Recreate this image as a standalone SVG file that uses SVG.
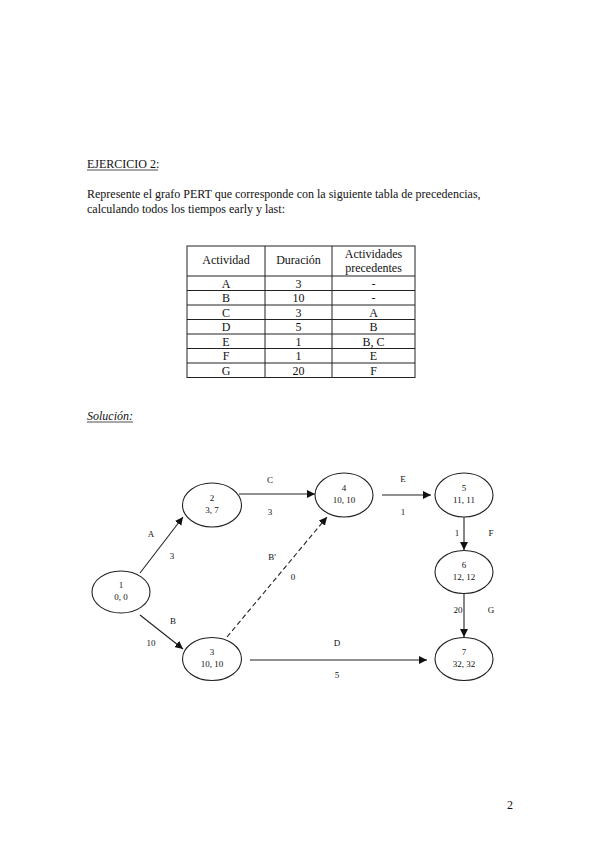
<svg xmlns="http://www.w3.org/2000/svg" width="599" height="848" viewBox="0 0 599 848">
<defs>
<style>
text{font-family:"Liberation Serif","Times New Roman",serif;fill:#111}
.p{font-size:12px}
.t{font-size:12px;text-anchor:middle}
.g{font-size:9px;text-anchor:middle}
.n ellipse{fill:none;stroke:#222;stroke-width:1.1}
.c line{stroke:#222;stroke-width:1.1}
.tab line{stroke:#222;stroke-width:1}
</style>
<marker id="ah" viewBox="0 0 10 10" refX="10" refY="5" markerWidth="8" markerHeight="8" markerUnits="userSpaceOnUse" orient="auto">
<path d="M0,0 L10,5 L0,10 z" fill="#111"/>
</marker>
</defs>
<rect width="599" height="848" fill="#fff"/>

<text class="p" x="87" y="168">EJERCICIO 2:</text>
<line x1="87" y1="170" x2="158" y2="170" stroke="#222" stroke-width="0.8"/>
<text class="p" x="87" y="198">Represente el grafo PERT que corresponde con la siguiente tabla de precedencias,</text>
<text class="p" x="87" y="213">calculando todos los tiempos early y last:</text>

<g id="tabla" class="tab">
<rect x="187" y="246" width="228" height="131.5" fill="none" stroke="#222" stroke-width="1"/>
<line x1="265" y1="246" x2="265" y2="377.5"/>
<line x1="332" y1="246" x2="332" y2="377.5"/>
<line x1="187" y1="276" x2="415" y2="276"/>
<line x1="187" y1="290.5" x2="415" y2="290.5"/>
<line x1="187" y1="305" x2="415" y2="305"/>
<line x1="187" y1="319.5" x2="415" y2="319.5"/>
<line x1="187" y1="334" x2="415" y2="334"/>
<line x1="187" y1="348.5" x2="415" y2="348.5"/>
<line x1="187" y1="363" x2="415" y2="363"/>
<text class="t" x="226" y="264">Actividad</text>
<text class="t" x="298.5" y="264">Duración</text>
<text class="t" x="373.5" y="258">Actividades</text>
<text class="t" x="373.5" y="272">precedentes</text>
<text class="t" x="226" y="287.5">A</text><text class="t" x="298.5" y="287.5">3</text><text class="t" x="373.5" y="287.5">-</text>
<text class="t" x="226" y="302">B</text><text class="t" x="298.5" y="302">10</text><text class="t" x="373.5" y="302">-</text>
<text class="t" x="226" y="316.5">C</text><text class="t" x="298.5" y="316.5">3</text><text class="t" x="373.5" y="316.5">A</text>
<text class="t" x="226" y="331">D</text><text class="t" x="298.5" y="331">5</text><text class="t" x="373.5" y="331">B</text>
<text class="t" x="226" y="345.5">E</text><text class="t" x="298.5" y="345.5">1</text><text class="t" x="373.5" y="345.5">B, C</text>
<text class="t" x="226" y="360">F</text><text class="t" x="298.5" y="360">1</text><text class="t" x="373.5" y="360">E</text>
<text class="t" x="226" y="374.5">G</text><text class="t" x="298.5" y="374.5">20</text><text class="t" x="373.5" y="374.5">F</text>
</g>

<text class="p" x="87" y="420" font-style="italic">Solución:</text>
<line x1="87" y1="422" x2="133" y2="422" stroke="#222" stroke-width="0.8"/>

<g id="conectores" class="c">
<line x1="140" y1="573" x2="183" y2="517" marker-end="url(#ah)"/>
<line x1="140" y1="615" x2="183" y2="649" marker-end="url(#ah)"/>
<line x1="239" y1="494" x2="315" y2="494" marker-end="url(#ah)"/>
<line x1="227" y1="637" x2="327" y2="517" stroke-dasharray="5,3" marker-end="url(#ah)"/>
<line x1="250" y1="660" x2="427" y2="660" marker-end="url(#ah)"/>
<line x1="382" y1="495" x2="431" y2="495" marker-end="url(#ah)"/>
<line x1="464" y1="517" x2="464" y2="550" marker-end="url(#ah)"/>
<line x1="464" y1="594" x2="464" y2="637" marker-end="url(#ah)"/>
<text class="g" x="151" y="537">A</text>
<text class="g" x="172" y="559">3</text>
<text class="g" x="173" y="624">B</text>
<text class="g" x="151" y="646">10</text>
<text class="g" x="270" y="483">C</text>
<text class="g" x="270" y="515">3</text>
<text class="g" x="272" y="560">B'</text>
<text class="g" x="293" y="580">0</text>
<text class="g" x="337" y="646">D</text>
<text class="g" x="337" y="678">5</text>
<text class="g" x="403" y="482">E</text>
<text class="g" x="403" y="515">1</text>
<text class="g" x="457" y="536">1</text>
<text class="g" x="491" y="536">F</text>
<text class="g" x="458" y="613">20</text>
<text class="g" x="491" y="613">G</text>
</g>

<g id="n1" class="n"><ellipse cx="121" cy="592" rx="29" ry="21"/><text class="g" x="121" y="588">1</text><text class="g" x="121" y="600">0, 0</text></g>
<g id="n2" class="n"><ellipse cx="212" cy="505" rx="29.5" ry="22"/><text class="g" x="212" y="501">2</text><text class="g" x="212" y="513">3, 7</text></g>
<g id="n3" class="n"><ellipse cx="212" cy="659" rx="29.5" ry="21.5"/><text class="g" x="212" y="655">3</text><text class="g" x="212" y="667">10, 10</text></g>
<g id="n4" class="n"><ellipse cx="344" cy="495" rx="29" ry="22"/><text class="g" x="344" y="491">4</text><text class="g" x="344" y="503">10, 10</text></g>
<g id="n5" class="n"><ellipse cx="464" cy="495" rx="29" ry="22"/><text class="g" x="464" y="491">5</text><text class="g" x="464" y="503">11, 11</text></g>
<g id="n6" class="n"><ellipse cx="464" cy="572" rx="29" ry="21.5"/><text class="g" x="464" y="568">6</text><text class="g" x="464" y="580">12, 12</text></g>
<g id="n7" class="n"><ellipse cx="464" cy="659" rx="29" ry="21.5"/><text class="g" x="464" y="655">7</text><text class="g" x="464" y="667">32, 32</text></g>

<text class="p" x="510" y="809" text-anchor="middle">2</text>
</svg>
